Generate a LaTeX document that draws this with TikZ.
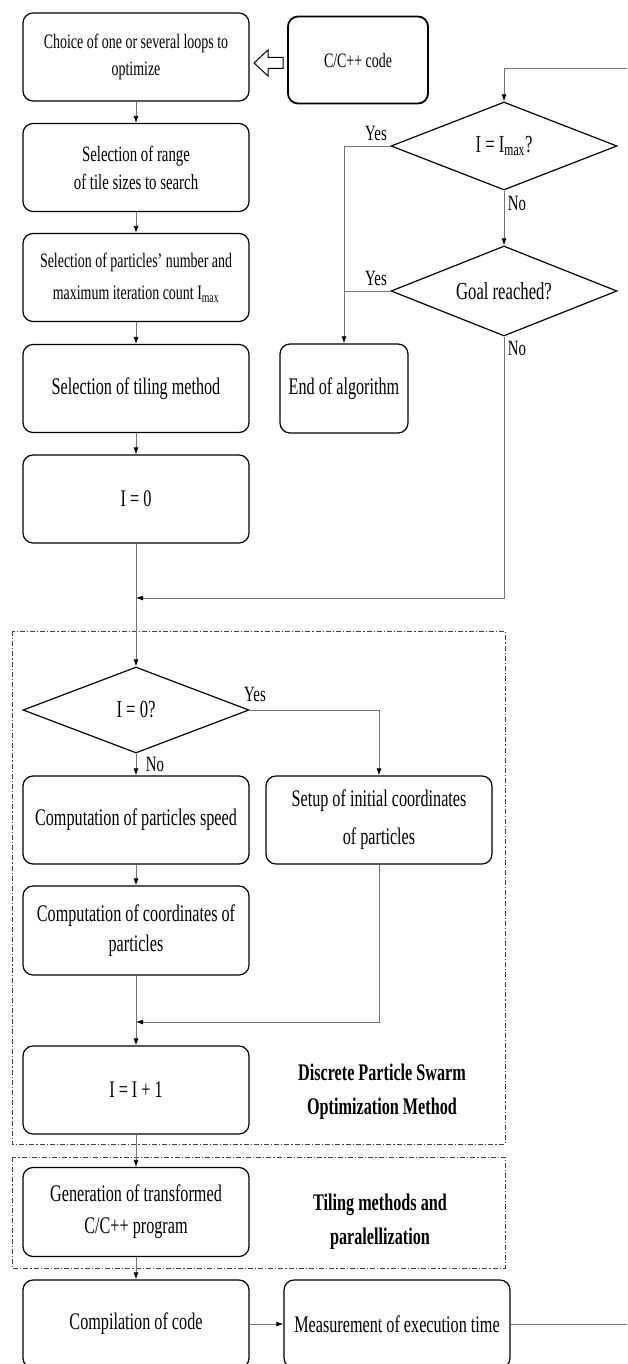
\documentclass[tikz,border=0pt]{standalone}
\usepackage{fontspec}
\setmainfont{Liberation Serif}[FakeStretch=0.68]
\usetikzlibrary{shapes.geometric,arrows.meta,calc}
\begin{document}
\begin{tikzpicture}[x=1pt,y=-1pt,
 box/.style={draw=black, line width=1.2pt, rounded corners=10pt, minimum width=226pt, minimum height=88pt, inner sep=0pt, align=center},
 dia/.style={draw=black, line width=1.2pt, diamond, aspect=3, minimum width=226pt, minimum height=88pt, inner sep=0pt, font=\fontsize{24.5}{26}\selectfont},
 conn/.style={draw=black!55, line width=0.8pt},
 arr/.style={conn, -{Latex[length=7pt,width=5pt,color=black]}},
 grp/.style={draw=black!75, line width=0.9pt, dash pattern=on 5pt off 2pt on 1.2pt off 2pt},
 lab/.style={font=\fontsize{21.8}{23}\selectfont, inner sep=0pt},
 fs/.style={font=\fontsize{20.5}{#1}\selectfont},
 fm/.style={font=\fontsize{21.8}{#1}\selectfont},
 fl/.style={font=\fontsize{23.8}{#1}\selectfont},
 grplab/.style={font=\fontsize{23.8}{34}\selectfont\bfseries, align=center, inner sep=0pt},
]
\useasboundingbox (0,0) rectangle (627,1364);
\clip (0,0) rectangle (627,1364);

% left column
\node[box, fs=27] (b1) at (136,57) {Choice of one or several loops to\\optimize};
\node[box, fm=28] (b2) at (136,167.5) {Selection of range\\of tile sizes to search};
\node[box, fs=32] (b3) at (136,277.5) {Selection of particles' number and\\maximum iteration count I\textsubscript{max}};
\node[box, fl=26] (b4) at (136,388.5) {Selection of tiling method};
\node[box, fl=26] (b5) at (136,499) {I = 0};

% code box
\node[box, line width=1.8pt, minimum width=140pt, minimum height=87pt, fs=26] (code) at (358,60) {C/C++ code};
\coordinate (hollow) at (268,63);
\draw[line width=1pt, fill=white] ($(hollow)+(-14,0)$) -- ($(hollow)+(0,-13)$) -- ($(hollow)+(0,-5.5)$) -- ($(hollow)+(15,-5.5)$) -- ($(hollow)+(15,5.5)$) -- ($(hollow)+(0,5.5)$) -- ($(hollow)+(0,13)$) -- cycle;

% right column decisions
\node[dia] (dmax) at (504,146) {I = I\textsubscript{max}?};
\node[dia, minimum height=90pt] (dgoal) at (504,291) {Goal reached?};
\node[box, minimum width=128pt, minimum height=89pt, fl=26] (end) at (344,388.5) {End of algorithm};

% DPSO group
\draw[grp] (12,631) rectangle (505,1144);
\node[dia, minimum height=86pt] (d0) at (136,710) {I = 0?};
\node[box, fl=26] (comp) at (136,820) {Computation of particles speed};
\node[box, fl=38] (setup) at (379,820) {Setup of initial coordinates\\of particles};
\node[box, minimum height=89pt, fl=30] (coord) at (136,930.5) {Computation of coordinates of\\particles};
\node[box, fl=26] (inc) at (136,1090) {I = I + 1};
\node[grplab] (g1) at (382,1092) {Discrete Particle Swarm\\Optimization Method};

% Tiling group
\draw[grp] (12,1157) rectangle (505,1268);
\node[box, minimum height=89pt, fl=32] (gen) at (136,1212) {Generation of transformed\\C/C++ program};
\node[grplab] (g2) at (380,1222) {Tiling methods and\\paralellization};

% bottom row
\node[box, fl=26] (compil) at (136,1324) {Compilation of code};
\node[box, fl=26] (meas) at (397,1324) {Measurement of execution time};

% coordinates
\coordinate (r1) at (630,68);
\coordinate (r2) at (630,1324);
\coordinate (j1) at (136,598);
\coordinate (j2) at (136,1022);

% connectors
\draw[arr] (b1) -- (b2);
\draw[arr] (b2) -- (b3);
\draw[arr] (b3) -- (b4);
\draw[arr] (b4) -- (b5);
\draw[arr] (b5) -- (d0);
\draw[arr] (r1) -| (dmax.north);
\draw[arr] (dmax.south) -- (dgoal.north);
\draw[arr] (dmax.west) -| (end.north);
\draw[conn] (dgoal.west) -- (end.north |- dgoal.west);
\draw[arr] (dgoal.south) |- (j1);
\draw[arr] (d0.south) -- (comp.north);
\draw[arr] (d0.east) -| (setup.north);
\draw[arr] (comp) -- (coord);
\draw[arr] (coord) -- (inc);
\draw[arr] (setup.south) |- (j2);
\draw[arr] (inc) -- (gen);
\draw[arr] (gen) -- (compil);
\draw[arr] (compil) -- (meas);
\draw[conn] (meas.east) -- (r2);

% labels
\node[lab] (y1) at (376,133) {Yes};
\node[lab] (n1) at (517,203) {No};
\node[lab] (y2) at (376,278) {Yes};
\node[lab] (n2) at (517,348) {No};
\node[lab] (y3) at (255,694) {Yes};
\node[lab] (n3) at (155,764) {No};
\end{tikzpicture}
\end{document}
